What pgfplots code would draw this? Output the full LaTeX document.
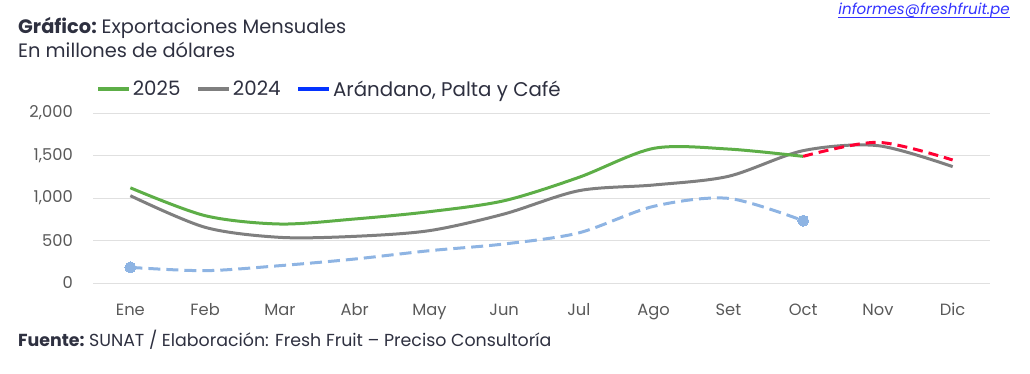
\documentclass[border=0pt]{standalone}
\usepackage{fontspec}
\setmainfont{Poppins}
\usepackage{pgfplots}
\pgfplotsset{compat=1.18}
\definecolor{cgreen}{HTML}{5DAE47}
\definecolor{cgray}{HTML}{7F7F7F}
\definecolor{clblue}{HTML}{8EB4E3}
\definecolor{cblue}{HTML}{0433FF}
\definecolor{cred}{HTML}{FF0033}
\definecolor{cgrid}{HTML}{E0E0E0}
\definecolor{ctext}{HTML}{2E3040}
\definecolor{ctick}{HTML}{595959}
\definecolor{cmail}{HTML}{3333FF}
\begin{document}
\begin{tikzpicture}
\path[use as bounding box] (0pt,0pt) rectangle (1030pt,373pt);
\node[anchor=base west, inner sep=0pt, text=ctext, font=\fontsize{19.4}{23}\selectfont] at (18pt,339pt) {\textbf{Gráfico:}\hspace{-0.1em} Exportaciones Mensuales};
\node[anchor=base west, inner sep=0pt, text=ctext, font=\fontsize{19.4}{23}\selectfont] at (18pt,316pt) {En millones de dólares};
\node[anchor=base east, inner sep=0pt, text=cmail, font=\fontsize{15.1}{18}\itshape] (mail) at (1010pt,358pt) {informes@freshfruit.pe};
\draw[cmail, line width=0.6pt] ([yshift=-2pt]mail.base west) -- ([yshift=-2pt]mail.base east);
\node[anchor=base west, inner sep=0pt, text=ctext, font=\fontsize{17.4}{21}\selectfont] at (18pt,27pt) {\textbf{Fuente:}\hspace{-0.1em} SUNAT / Elaboración: Fresh Fruit – Preciso Consultoría};
\begin{axis}[
  at={(93pt,90pt)}, anchor=south west,
  width=897pt, height=170pt, scale only axis,
  xmin=-0.5, xmax=11.5, ymin=0, ymax=2000,
  axis line style={draw=none},
  tick style={draw=none},
  ytick={0,500,1000,1500,2000},
  xtick={0,...,11},
  xticklabels={Ene,Feb,Mar,Abr,May,Jun,Jul,Ago,Set,Oct,Nov,Dic},
  ymajorgrids, grid style={cgrid, line width=1pt},
  ticklabel style={font=\fontsize{16.3}{19}\selectfont, text=ctick, inner sep=0pt},
  yticklabel style={anchor=east, xshift=-20pt},
  xticklabel style={anchor=base, yshift=-32pt},
  /pgf/number format/.cd, 1000 sep={,}, assume math mode=true,
  /pgfplots/.cd,
  clip=false,
  legend style={draw=none, fill=none, inner sep=0pt, at={(0.0035,1.14)}, anchor=west,
    font=\fontsize{19.8}{23}\selectfont, text=ctext,
    /tikz/every even column/.append style={column sep=14pt}},
  legend columns=3,
  legend cell align=left,
  legend image code/.code={\draw[#1] (0pt,0pt) -- (22pt,0pt); \path (0pt,0pt) -- (31pt,0pt);},
]
\addlegendimage{cgreen, line width=3.5pt}
\addlegendentry{2025}
\addlegendimage{cgray, line width=3.5pt}
\addlegendentry{2024}
\addlegendimage{cblue, line width=3.5pt}
\addlegendentry{Arándano, Palta y Café}

\addplot[forget plot, clblue, line width=3pt, dash pattern=on 12pt off 6pt, smooth, tension=0.5,
  mark=*, mark indices={1,10}, mark size=5.5pt, mark options={solid, fill=clblue, draw=clblue, line width=0pt}]
  coordinates {(0,184) (1,145) (2,204) (3,282) (4,380) (5,459) (6,590) (7,902) (8,996) (9,733)};
\addplot[forget plot, cgray, line width=3pt, smooth, tension=0.5]
  coordinates {(0,1027) (1,655) (2,537) (3,549) (4,616) (5,812) (6,1086) (7,1153) (8,1255) (9,1557) (10,1616) (11,1369)};
\addplot[forget plot, cgreen, line width=3pt, smooth, tension=0.5]
  coordinates {(0,1120) (1,792) (2,694) (3,753) (4,839) (5,968) (6,1243) (7,1584) (8,1576) (9,1490)};
\addplot[forget plot, cred, line width=3pt, dash pattern=on 10pt off 6pt, smooth, tension=0.5]
  coordinates {(9,1490) (10,1655) (11,1447)};
\end{axis}
\end{tikzpicture}
\end{document}
